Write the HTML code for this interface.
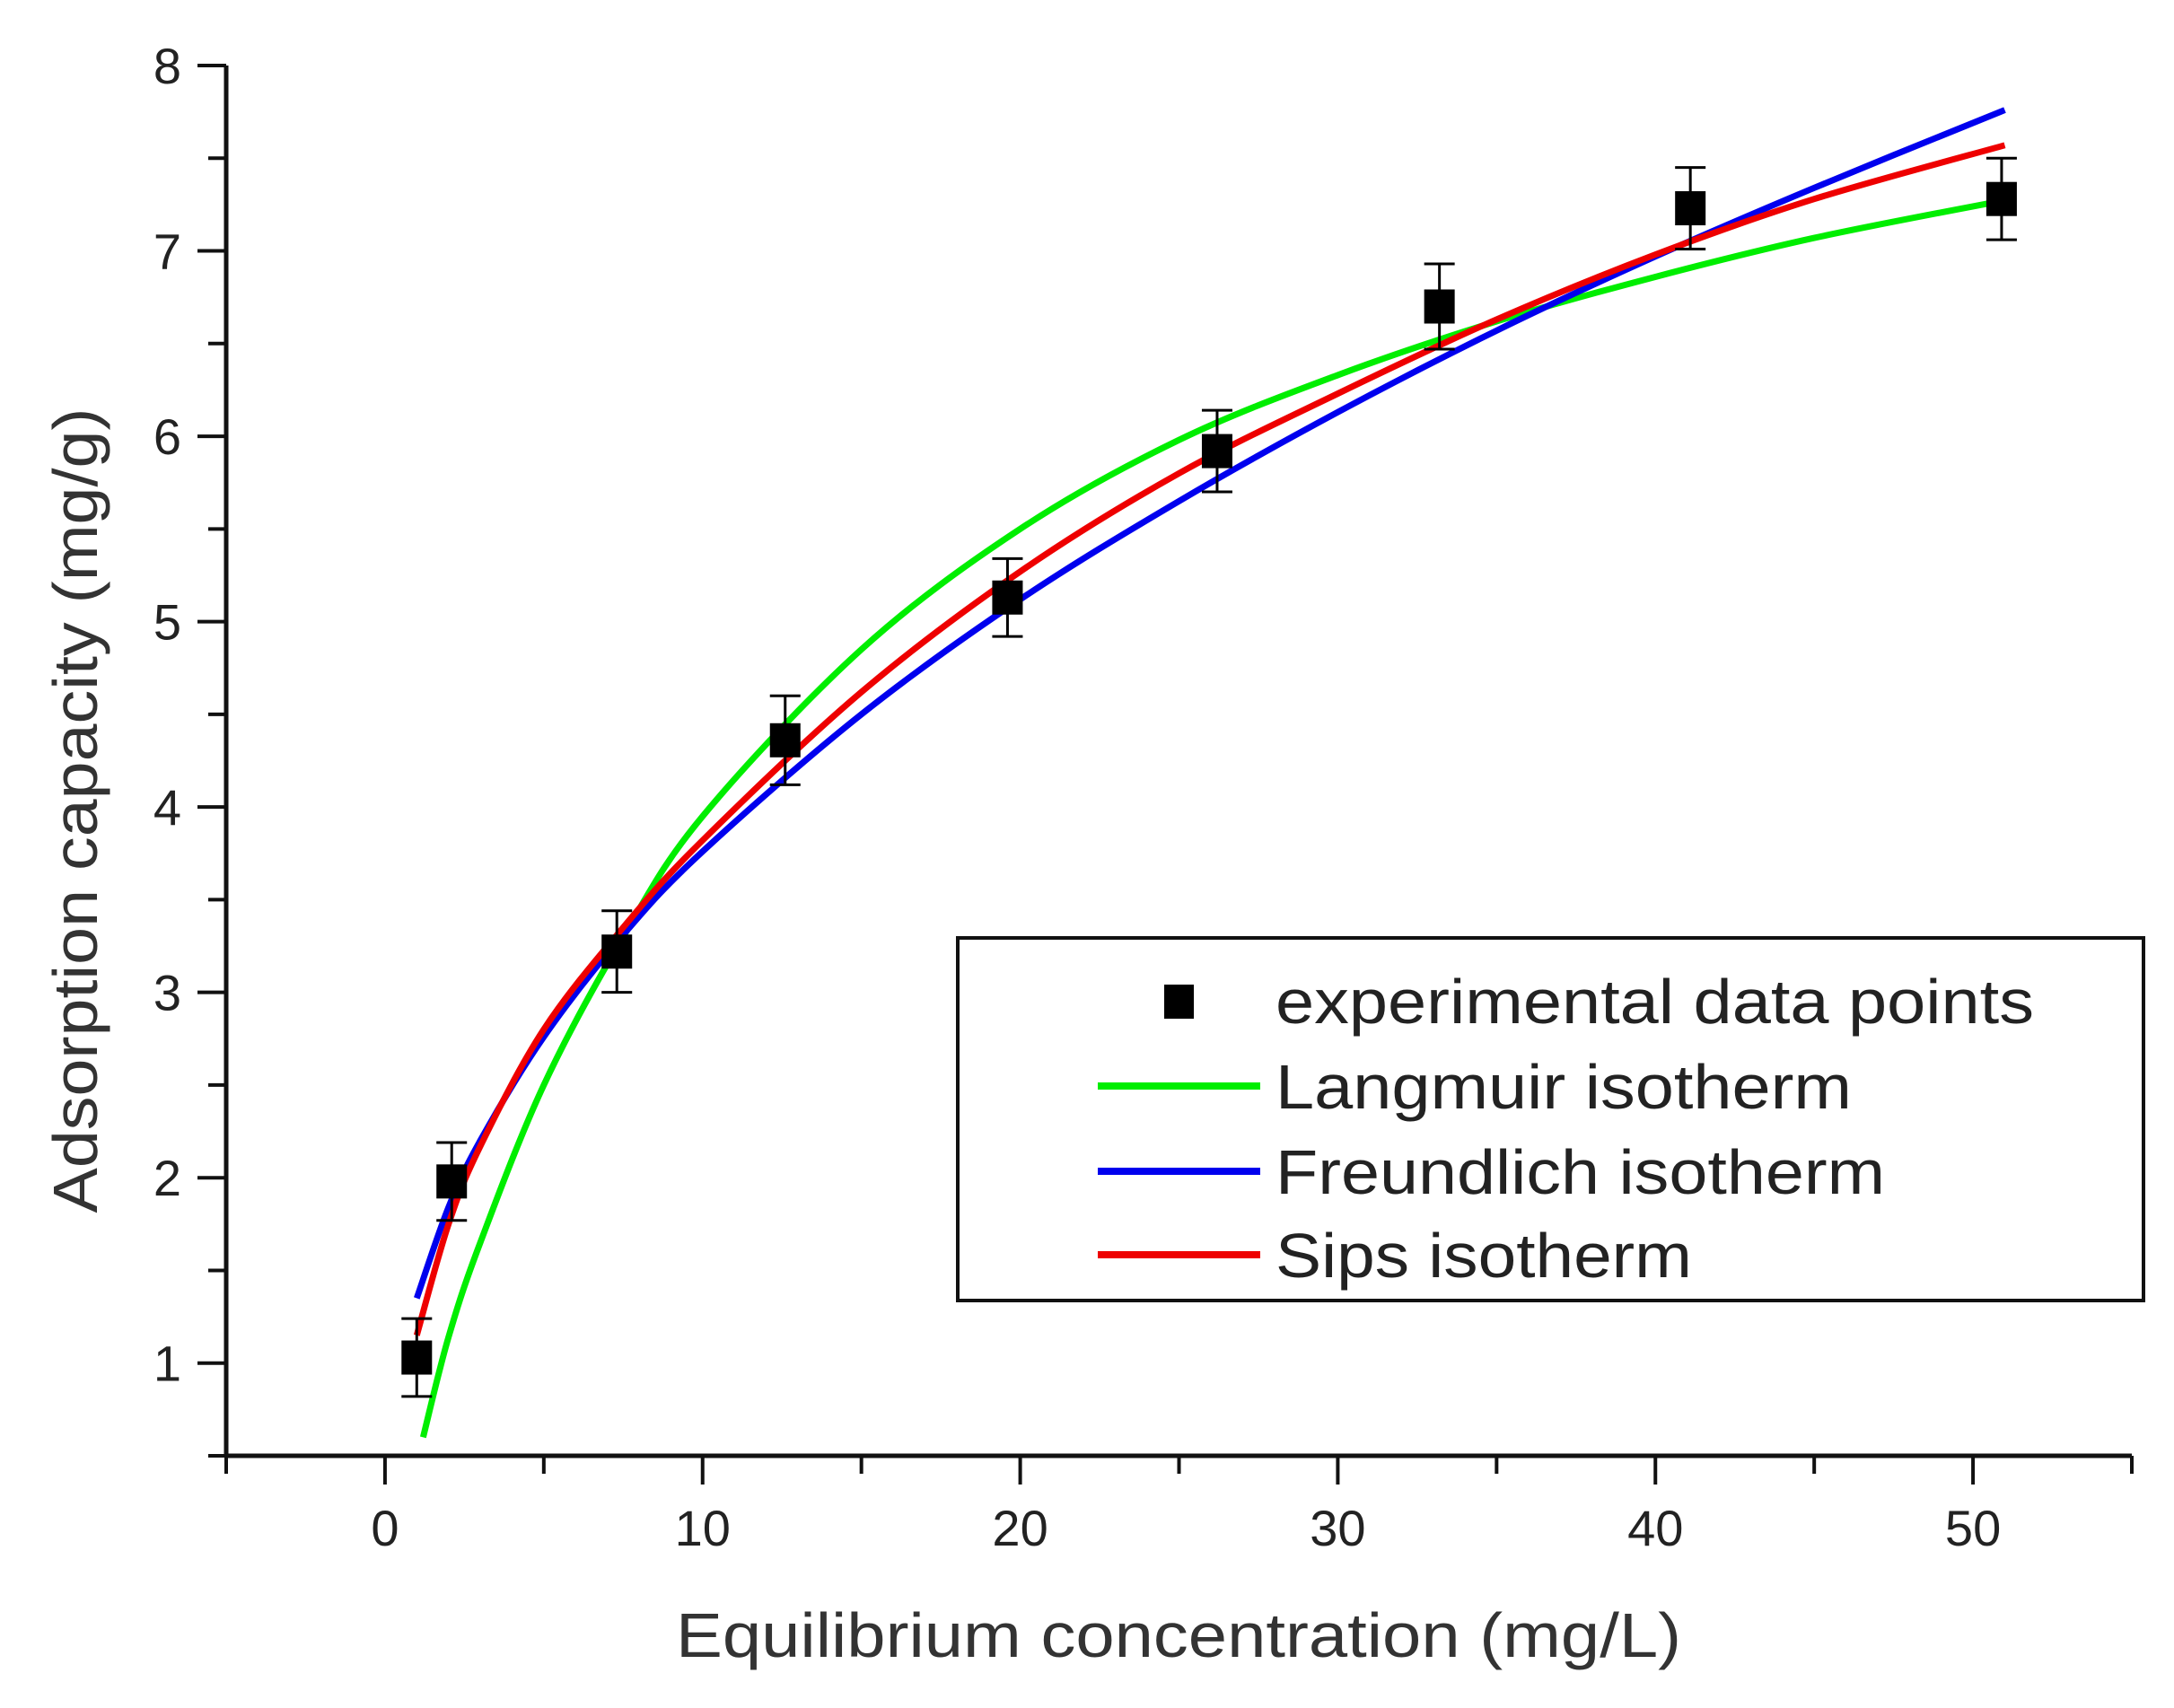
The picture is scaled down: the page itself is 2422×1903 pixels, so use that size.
<!DOCTYPE html>
<html><head><meta charset="utf-8"><style>
html,body{margin:0;padding:0;background:#fff;}
svg{display:block;font-family:"Liberation Sans",Arial,sans-serif;}
</style></head><body>
<svg id="chart" width="2422" height="1903" viewBox="0 0 2422 1903" xmlns="http://www.w3.org/2000/svg">
<rect width="2422" height="1903" fill="#fff"/>
<g id="axes"></g>
<g id="series"></g>
<g id="points"></g>
<text x="1313" y="1846" font-size="70" fill="#333" text-anchor="middle" textLength="1120" lengthAdjust="spacingAndGlyphs">Equilibrium concentration (mg/L)</text>
<text x="0" y="0" font-size="70" fill="#333" text-anchor="middle" textLength="897" lengthAdjust="spacingAndGlyphs" transform="translate(108,903) rotate(-90)">Adsorption capacity (mg/g)</text>
<g>
<rect x="1067" y="1045" width="1321" height="404" fill="#fff" stroke="#111" stroke-width="4"/>
<g><rect x="1297" y="1097" width="33" height="38" fill="#000"/><text x="1421" y="1140" font-size="70" fill="#222" textLength="845" lengthAdjust="spacingAndGlyphs">experimental data points</text></g>
<g><line x1="1223" y1="1210" x2="1404" y2="1210" stroke="#00ee00" stroke-width="8"/><text x="1421" y="1235" font-size="70" fill="#222" textLength="642" lengthAdjust="spacingAndGlyphs">Langmuir isotherm</text></g>
<g><line x1="1223" y1="1305" x2="1404" y2="1305" stroke="#0000ee" stroke-width="8"/><text x="1421" y="1330" font-size="70" fill="#222" textLength="679" lengthAdjust="spacingAndGlyphs">Freundlich isotherm</text></g>
<g><line x1="1223" y1="1398" x2="1404" y2="1398" stroke="#ee0000" stroke-width="8"/><text x="1421" y="1423" font-size="70" fill="#222" textLength="464" lengthAdjust="spacingAndGlyphs">Sips isotherm</text></g>
</g>
</svg>
<script>
const xTicks = [0, 10, 20, 30, 40, 50];
const yTicks = [1, 2, 3, 4, 5, 6, 7, 8];
const expC = [1.0, 2.1, 7.3, 12.6, 19.6, 26.2, 33.2, 41.1, 50.9];
const expQ = [1.03, 1.98, 3.22, 4.36, 5.13, 5.92, 6.70, 7.23, 7.28];
const expErr = [0.21, 0.21, 0.22, 0.24, 0.21, 0.22, 0.23, 0.22, 0.22];
const langC = [1.2, 2, 3, 5, 7.5, 10, 15, 20, 25, 30, 35, 40, 45, 50.9];
const langQ = [0.6, 1.14, 1.65, 2.5, 3.3, 3.95, 4.85, 5.5, 5.98, 6.33, 6.62, 6.86, 7.07, 7.27];
const freC = [1, 2, 3, 5, 7.5, 10, 15, 20, 25, 30, 35, 40, 45, 51];
const freQ = [1.35, 1.84, 2.2, 2.76, 3.31, 3.76, 4.5, 5.12, 5.65, 6.13, 6.57, 6.97, 7.34, 7.76];
const sipC = [1, 2, 3, 5, 7.5, 10, 15, 20, 25, 30, 35, 40, 45, 51];
const sipQ = [1.15, 1.75, 2.17, 2.8, 3.35, 3.82, 4.62, 5.27, 5.8, 6.23, 6.63, 6.98, 7.28, 7.57];

const NS = "http://www.w3.org/2000/svg";
const X0 = 252, X1 = 2375, XMIN = -5, XMAX = 55;
const Y0 = 1622, Y1 = 73, YMIN = 0.5, YMAX = 8;
function sx(v){ return X0 + (v - XMIN) / (XMAX - XMIN) * (X1 - X0); }
function sy(v){ return Y0 - (v - YMIN) / (YMAX - YMIN) * (Y0 - Y1); }
function mk(tag, attrs, parent){ const e = document.createElementNS(NS, tag); for (const k in attrs) e.setAttribute(k, attrs[k]); parent.appendChild(e); return e; }

const axes = document.getElementById('axes');
const xa = mk('line', {x1: X0, y1: Y0, x2: X1, y2: Y0, stroke: '#111', 'stroke-width': 5}, axes);


const ya = mk('line', {x1: X0, y1: Y0, x2: X0, y2: Y1, stroke: '#111', 'stroke-width': 5}, axes);


for (let v = XMIN; v <= XMAX; v += 5) {
  const major = v % 10 === 0;
  mk('line', {x1: sx(v), y1: Y0, x2: sx(v), y2: Y0 + (major ? 32 : 20), stroke: '#111', 'stroke-width': 4}, axes);
}
xTicks.forEach(v => {
  const t = mk('text', {x: sx(v), y: 1722, 'font-size': 56, fill: '#222', 'text-anchor': 'middle'}, axes);
  t.textContent = v;
  
  
});
for (let v = 0.5; v <= 8.001; v += 0.5) {
  const major = Math.abs(v - Math.round(v)) < 1e-6;
  mk('line', {x1: X0, y1: sy(v), x2: X0 - (major ? 32 : 20), y2: sy(v), stroke: '#111', 'stroke-width': 4}, axes);
}
yTicks.forEach(v => {
  const t = mk('text', {x: 202, y: sy(v) + 20, 'font-size': 56, fill: '#222', 'text-anchor': 'end'}, axes);
  t.textContent = v;
  
  
});

function smoothPath(xs, ys){
  const p = xs.map((x, i) => [sx(x), sy(ys[i])]);
  let d = 'M' + p[0][0] + ',' + p[0][1];
  for (let i = 0; i < p.length - 1; i++) {
    const a = p[Math.max(0, i - 1)], b = p[i], c = p[i + 1], e = p[Math.min(p.length - 1, i + 2)];
    const c1 = [b[0] + (c[0] - a[0]) / 6, b[1] + (c[1] - a[1]) / 6];
    const c2 = [c[0] - (e[0] - b[0]) / 6, c[1] - (e[1] - b[1]) / 6];
    d += ' C' + c1 + ' ' + c2 + ' ' + c;
  }
  return d;
}
const series = document.getElementById('series');
const lg = mk('path', {d: smoothPath(langC, langQ), fill: 'none', stroke: '#00ee00', 'stroke-width': 7}, series);


const fr = mk('path', {d: smoothPath(freC, freQ), fill: 'none', stroke: '#0000ee', 'stroke-width': 7}, series);


const sp = mk('path', {d: smoothPath(sipC, sipQ), fill: 'none', stroke: '#ee0000', 'stroke-width': 7}, series);



const pts = document.getElementById('points');
expC.forEach((c, i) => {
  const g = mk('g', {}, pts);
  
  
  const x = sx(c), y = sy(expQ[i]), yt = sy(expQ[i] + expErr[i]), yb = sy(expQ[i] - expErr[i]);
  mk('line', {x1: x, y1: yt, x2: x, y2: yb, stroke: '#000', 'stroke-width': 3}, g);
  mk('line', {x1: x - 17, y1: yt, x2: x + 17, y2: yt, stroke: '#000', 'stroke-width': 3}, g);
  mk('line', {x1: x - 17, y1: yb, x2: x + 17, y2: yb, stroke: '#000', 'stroke-width': 3}, g);
  mk('rect', {x: x - 17, y: y - 19, width: 34, height: 38, fill: '#000'}, g);
});
</script>
</body></html>
